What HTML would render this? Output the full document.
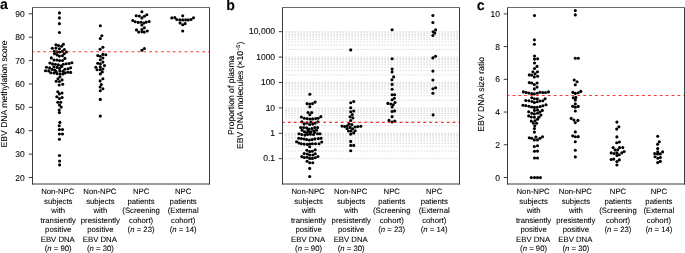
<!DOCTYPE html>
<html><head><meta charset="utf-8"><style>
html,body{margin:0;padding:0;background:#fff;}
svg{display:block;will-change:transform;}
text{font-family:"Liberation Sans", sans-serif;fill:#000;stroke:#000;stroke-width:0.08px;text-rendering:geometricPrecision;}
circle{fill:#000;}
</style></head><body>
<svg width="685" height="253" viewBox="0 0 685 253">
<line x1="285.45" x2="459" y1="158.70" y2="158.70" stroke="#dadada" stroke-width="1" stroke-dasharray="1.5 1.5"/>
<line x1="285.45" x2="459" y1="151.05" y2="151.05" stroke="#dadada" stroke-width="1" stroke-dasharray="1.5 1.5"/>
<line x1="285.45" x2="459" y1="146.58" y2="146.58" stroke="#dadada" stroke-width="1" stroke-dasharray="1.5 1.5"/>
<line x1="285.45" x2="459" y1="143.41" y2="143.41" stroke="#dadada" stroke-width="1" stroke-dasharray="1.5 1.5"/>
<line x1="285.45" x2="459" y1="140.95" y2="140.95" stroke="#dadada" stroke-width="1" stroke-dasharray="1.5 1.5"/>
<line x1="285.45" x2="459" y1="138.93" y2="138.93" stroke="#dadada" stroke-width="1" stroke-dasharray="1.5 1.5"/>
<line x1="285.45" x2="459" y1="137.23" y2="137.23" stroke="#dadada" stroke-width="1" stroke-dasharray="1.5 1.5"/>
<line x1="285.45" x2="459" y1="135.76" y2="135.76" stroke="#dadada" stroke-width="1" stroke-dasharray="1.5 1.5"/>
<line x1="285.45" x2="459" y1="134.46" y2="134.46" stroke="#dadada" stroke-width="1" stroke-dasharray="1.5 1.5"/>
<line x1="285.45" x2="459" y1="133.30" y2="133.30" stroke="#dadada" stroke-width="1" stroke-dasharray="1.5 1.5"/>
<line x1="285.45" x2="459" y1="125.65" y2="125.65" stroke="#dadada" stroke-width="1" stroke-dasharray="1.5 1.5"/>
<line x1="285.45" x2="459" y1="121.18" y2="121.18" stroke="#dadada" stroke-width="1" stroke-dasharray="1.5 1.5"/>
<line x1="285.45" x2="459" y1="118.01" y2="118.01" stroke="#dadada" stroke-width="1" stroke-dasharray="1.5 1.5"/>
<line x1="285.45" x2="459" y1="115.55" y2="115.55" stroke="#dadada" stroke-width="1" stroke-dasharray="1.5 1.5"/>
<line x1="285.45" x2="459" y1="113.53" y2="113.53" stroke="#dadada" stroke-width="1" stroke-dasharray="1.5 1.5"/>
<line x1="285.45" x2="459" y1="111.83" y2="111.83" stroke="#dadada" stroke-width="1" stroke-dasharray="1.5 1.5"/>
<line x1="285.45" x2="459" y1="110.36" y2="110.36" stroke="#dadada" stroke-width="1" stroke-dasharray="1.5 1.5"/>
<line x1="285.45" x2="459" y1="109.06" y2="109.06" stroke="#dadada" stroke-width="1" stroke-dasharray="1.5 1.5"/>
<line x1="285.45" x2="459" y1="107.90" y2="107.90" stroke="#dadada" stroke-width="1" stroke-dasharray="1.5 1.5"/>
<line x1="285.45" x2="459" y1="100.25" y2="100.25" stroke="#dadada" stroke-width="1" stroke-dasharray="1.5 1.5"/>
<line x1="285.45" x2="459" y1="95.78" y2="95.78" stroke="#dadada" stroke-width="1" stroke-dasharray="1.5 1.5"/>
<line x1="285.45" x2="459" y1="92.61" y2="92.61" stroke="#dadada" stroke-width="1" stroke-dasharray="1.5 1.5"/>
<line x1="285.45" x2="459" y1="90.15" y2="90.15" stroke="#dadada" stroke-width="1" stroke-dasharray="1.5 1.5"/>
<line x1="285.45" x2="459" y1="88.13" y2="88.13" stroke="#dadada" stroke-width="1" stroke-dasharray="1.5 1.5"/>
<line x1="285.45" x2="459" y1="86.43" y2="86.43" stroke="#dadada" stroke-width="1" stroke-dasharray="1.5 1.5"/>
<line x1="285.45" x2="459" y1="84.96" y2="84.96" stroke="#dadada" stroke-width="1" stroke-dasharray="1.5 1.5"/>
<line x1="285.45" x2="459" y1="83.66" y2="83.66" stroke="#dadada" stroke-width="1" stroke-dasharray="1.5 1.5"/>
<line x1="285.45" x2="459" y1="82.50" y2="82.50" stroke="#dadada" stroke-width="1" stroke-dasharray="1.5 1.5"/>
<line x1="285.45" x2="459" y1="74.85" y2="74.85" stroke="#dadada" stroke-width="1" stroke-dasharray="1.5 1.5"/>
<line x1="285.45" x2="459" y1="70.38" y2="70.38" stroke="#dadada" stroke-width="1" stroke-dasharray="1.5 1.5"/>
<line x1="285.45" x2="459" y1="67.21" y2="67.21" stroke="#dadada" stroke-width="1" stroke-dasharray="1.5 1.5"/>
<line x1="285.45" x2="459" y1="64.75" y2="64.75" stroke="#dadada" stroke-width="1" stroke-dasharray="1.5 1.5"/>
<line x1="285.45" x2="459" y1="62.73" y2="62.73" stroke="#dadada" stroke-width="1" stroke-dasharray="1.5 1.5"/>
<line x1="285.45" x2="459" y1="61.03" y2="61.03" stroke="#dadada" stroke-width="1" stroke-dasharray="1.5 1.5"/>
<line x1="285.45" x2="459" y1="59.56" y2="59.56" stroke="#dadada" stroke-width="1" stroke-dasharray="1.5 1.5"/>
<line x1="285.45" x2="459" y1="58.26" y2="58.26" stroke="#dadada" stroke-width="1" stroke-dasharray="1.5 1.5"/>
<line x1="285.45" x2="459" y1="57.10" y2="57.10" stroke="#dadada" stroke-width="1" stroke-dasharray="1.5 1.5"/>
<line x1="285.45" x2="459" y1="49.45" y2="49.45" stroke="#dadada" stroke-width="1" stroke-dasharray="1.5 1.5"/>
<line x1="285.45" x2="459" y1="44.98" y2="44.98" stroke="#dadada" stroke-width="1" stroke-dasharray="1.5 1.5"/>
<line x1="285.45" x2="459" y1="41.81" y2="41.81" stroke="#dadada" stroke-width="1" stroke-dasharray="1.5 1.5"/>
<line x1="285.45" x2="459" y1="39.35" y2="39.35" stroke="#dadada" stroke-width="1" stroke-dasharray="1.5 1.5"/>
<line x1="285.45" x2="459" y1="37.33" y2="37.33" stroke="#dadada" stroke-width="1" stroke-dasharray="1.5 1.5"/>
<line x1="285.45" x2="459" y1="35.63" y2="35.63" stroke="#dadada" stroke-width="1" stroke-dasharray="1.5 1.5"/>
<line x1="285.45" x2="459" y1="34.16" y2="34.16" stroke="#dadada" stroke-width="1" stroke-dasharray="1.5 1.5"/>
<line x1="285.45" x2="459" y1="32.86" y2="32.86" stroke="#dadada" stroke-width="1" stroke-dasharray="1.5 1.5"/>
<line x1="285.45" x2="459" y1="31.70" y2="31.70" stroke="#dadada" stroke-width="1" stroke-dasharray="1.5 1.5"/>
<path d="M32.5 7.0 V184.5 M209.5 7.0 V184.5" fill="none" stroke="#3a3a3a" stroke-width="1"/>
<path d="M32.0 7.5 H210.0" fill="none" stroke="#6a6a6a" stroke-width="1"/>
<path d="M32.0 184.0 H210.0" fill="none" stroke="#3a3a3a" stroke-width="1"/>
<path d="M282.5 7.0 V184.5 M459.5 7.0 V184.5" fill="none" stroke="#3a3a3a" stroke-width="1"/>
<path d="M282.0 7.5 H460.0" fill="none" stroke="#6a6a6a" stroke-width="1"/>
<path d="M282.0 184.0 H460.0" fill="none" stroke="#3a3a3a" stroke-width="1"/>
<path d="M507.5 7.0 V184.5 M684.5 7.0 V184.5" fill="none" stroke="#3a3a3a" stroke-width="1"/>
<path d="M507.0 7.5 H685.0" fill="none" stroke="#6a6a6a" stroke-width="1"/>
<path d="M507.0 184.0 H685.0" fill="none" stroke="#3a3a3a" stroke-width="1"/>
<line x1="28.75" x2="32.5" y1="177.50" y2="177.50" stroke="#3a3a3a" stroke-width="1"/>
<text x="24.8" y="180.50" text-anchor="end" font-size="8.5">20</text>
<line x1="28.75" x2="32.5" y1="154.11" y2="154.11" stroke="#3a3a3a" stroke-width="1"/>
<text x="24.8" y="157.11" text-anchor="end" font-size="8.5">30</text>
<line x1="28.75" x2="32.5" y1="130.73" y2="130.73" stroke="#3a3a3a" stroke-width="1"/>
<text x="24.8" y="133.73" text-anchor="end" font-size="8.5">40</text>
<line x1="28.75" x2="32.5" y1="107.34" y2="107.34" stroke="#3a3a3a" stroke-width="1"/>
<text x="24.8" y="110.34" text-anchor="end" font-size="8.5">50</text>
<line x1="28.75" x2="32.5" y1="83.96" y2="83.96" stroke="#3a3a3a" stroke-width="1"/>
<text x="24.8" y="86.96" text-anchor="end" font-size="8.5">60</text>
<line x1="28.75" x2="32.5" y1="60.57" y2="60.57" stroke="#3a3a3a" stroke-width="1"/>
<text x="24.8" y="63.57" text-anchor="end" font-size="8.5">70</text>
<line x1="28.75" x2="32.5" y1="37.19" y2="37.19" stroke="#3a3a3a" stroke-width="1"/>
<text x="24.8" y="40.19" text-anchor="end" font-size="8.5">80</text>
<line x1="28.75" x2="32.5" y1="13.80" y2="13.80" stroke="#3a3a3a" stroke-width="1"/>
<text x="24.8" y="16.80" text-anchor="end" font-size="8.5">90</text>
<line x1="278.75" x2="282.5" y1="158.70" y2="158.70" stroke="#3a3a3a" stroke-width="1"/>
<text x="275.1" y="161.30" text-anchor="end" font-size="8.5">0.1</text>
<line x1="278.75" x2="282.5" y1="133.30" y2="133.30" stroke="#3a3a3a" stroke-width="1"/>
<text x="275.1" y="135.90" text-anchor="end" font-size="8.5">1</text>
<line x1="278.75" x2="282.5" y1="107.90" y2="107.90" stroke="#3a3a3a" stroke-width="1"/>
<text x="275.1" y="110.50" text-anchor="end" font-size="8.5">10</text>
<line x1="278.75" x2="282.5" y1="82.50" y2="82.50" stroke="#3a3a3a" stroke-width="1"/>
<text x="275.1" y="85.10" text-anchor="end" font-size="8.5">100</text>
<line x1="278.75" x2="282.5" y1="57.10" y2="57.10" stroke="#3a3a3a" stroke-width="1"/>
<text x="275.1" y="59.70" text-anchor="end" font-size="8.5">1000</text>
<line x1="278.75" x2="282.5" y1="31.70" y2="31.70" stroke="#3a3a3a" stroke-width="1"/>
<text x="275.1" y="34.30" text-anchor="end" font-size="8.5">10,000</text>
<line x1="503.75" x2="507.5" y1="177.50" y2="177.50" stroke="#3a3a3a" stroke-width="1"/>
<text x="499.9" y="180.50" text-anchor="end" font-size="8.5">0</text>
<line x1="503.75" x2="507.5" y1="144.78" y2="144.78" stroke="#3a3a3a" stroke-width="1"/>
<text x="499.9" y="147.78" text-anchor="end" font-size="8.5">2</text>
<line x1="503.75" x2="507.5" y1="112.06" y2="112.06" stroke="#3a3a3a" stroke-width="1"/>
<text x="499.9" y="115.06" text-anchor="end" font-size="8.5">4</text>
<line x1="503.75" x2="507.5" y1="79.34" y2="79.34" stroke="#3a3a3a" stroke-width="1"/>
<text x="499.9" y="82.34" text-anchor="end" font-size="8.5">6</text>
<line x1="503.75" x2="507.5" y1="46.62" y2="46.62" stroke="#3a3a3a" stroke-width="1"/>
<text x="499.9" y="49.62" text-anchor="end" font-size="8.5">8</text>
<line x1="503.75" x2="507.5" y1="13.90" y2="13.90" stroke="#3a3a3a" stroke-width="1"/>
<text x="499.9" y="16.90" text-anchor="end" font-size="8.5">10</text>
<text x="0.1" y="8.6" font-size="14.2" font-weight="bold">a</text>
<text x="226.2" y="10.4" font-size="14.2" font-weight="bold">b</text>
<text x="476.8" y="10.4" font-size="14.2" font-weight="bold">c</text>
<text transform="translate(6.5 93.95) rotate(-90)" text-anchor="middle" font-size="8.6">EBV DNA methylation score</text>
<text transform="translate(233.6 95.3) rotate(-90)" text-anchor="middle" font-size="8.6">Proportion of plasma</text>
<text transform="translate(243.2 95.35) rotate(-90)" text-anchor="middle" font-size="8.6">EBV DNA molecules (×10<tspan dy="-3" font-size="5.5">−5</tspan><tspan dy="3">)</tspan></text>
<text transform="translate(483.7 94.35) rotate(-90)" text-anchor="middle" font-size="8.7">EBV DNA size ratio</text>
<text x="57.74" y="194.30" text-anchor="middle" font-size="7.75">Non-NPC</text>
<text x="58.24" y="203.77" text-anchor="middle" font-size="7.75">subjects</text>
<text x="58.24" y="213.24" text-anchor="middle" font-size="7.75">with</text>
<text x="58.24" y="222.71" text-anchor="middle" font-size="7.75">transiently</text>
<text x="58.24" y="232.18" text-anchor="middle" font-size="7.75">positive</text>
<text x="57.74" y="241.65" text-anchor="middle" font-size="7.75">EBV DNA</text>
<text x="58.24" y="251.12" text-anchor="middle" font-size="7.75">(<tspan font-style="italic">n</tspan> = 90)</text>
<text x="99.88" y="194.30" text-anchor="middle" font-size="7.75">Non-NPC</text>
<text x="100.38" y="203.77" text-anchor="middle" font-size="7.75">subjects</text>
<text x="100.38" y="213.24" text-anchor="middle" font-size="7.75">with</text>
<text x="100.38" y="222.71" text-anchor="middle" font-size="7.75">presistently</text>
<text x="100.38" y="232.18" text-anchor="middle" font-size="7.75">positive</text>
<text x="99.88" y="241.65" text-anchor="middle" font-size="7.75">EBV DNA</text>
<text x="100.38" y="251.12" text-anchor="middle" font-size="7.75">(<tspan font-style="italic">n</tspan> = 30)</text>
<text x="141.07" y="194.30" text-anchor="middle" font-size="7.75">NPC</text>
<text x="141.07" y="203.77" text-anchor="middle" font-size="7.75">patients</text>
<text x="141.07" y="213.24" text-anchor="middle" font-size="7.75">(Screening</text>
<text x="141.07" y="222.71" text-anchor="middle" font-size="7.75">cohort)</text>
<text x="141.07" y="232.18" text-anchor="middle" font-size="7.75">(<tspan font-style="italic">n</tspan> = 23)</text>
<text x="183.16" y="194.30" text-anchor="middle" font-size="7.75">NPC</text>
<text x="183.16" y="203.77" text-anchor="middle" font-size="7.75">patients</text>
<text x="183.16" y="213.24" text-anchor="middle" font-size="7.75">(External</text>
<text x="183.16" y="222.71" text-anchor="middle" font-size="7.75">cohort)</text>
<text x="183.16" y="232.18" text-anchor="middle" font-size="7.75">(<tspan font-style="italic">n</tspan> = 14)</text>
<text x="308.09" y="194.30" text-anchor="middle" font-size="7.75">Non-NPC</text>
<text x="308.59" y="203.77" text-anchor="middle" font-size="7.75">subjects</text>
<text x="308.59" y="213.24" text-anchor="middle" font-size="7.75">with</text>
<text x="308.59" y="222.71" text-anchor="middle" font-size="7.75">transiently</text>
<text x="308.59" y="232.18" text-anchor="middle" font-size="7.75">positive</text>
<text x="308.09" y="241.65" text-anchor="middle" font-size="7.75">EBV DNA</text>
<text x="308.59" y="251.12" text-anchor="middle" font-size="7.75">(<tspan font-style="italic">n</tspan> = 90)</text>
<text x="350.68" y="194.30" text-anchor="middle" font-size="7.75">Non-NPC</text>
<text x="351.18" y="203.77" text-anchor="middle" font-size="7.75">subjects</text>
<text x="351.18" y="213.24" text-anchor="middle" font-size="7.75">with</text>
<text x="351.18" y="222.71" text-anchor="middle" font-size="7.75">presistently</text>
<text x="351.18" y="232.18" text-anchor="middle" font-size="7.75">positive</text>
<text x="350.68" y="241.65" text-anchor="middle" font-size="7.75">EBV DNA</text>
<text x="351.18" y="251.12" text-anchor="middle" font-size="7.75">(<tspan font-style="italic">n</tspan> = 30)</text>
<text x="391.72" y="194.30" text-anchor="middle" font-size="7.75">NPC</text>
<text x="391.72" y="203.77" text-anchor="middle" font-size="7.75">patients</text>
<text x="391.72" y="213.24" text-anchor="middle" font-size="7.75">(Screening</text>
<text x="391.72" y="222.71" text-anchor="middle" font-size="7.75">cohort)</text>
<text x="391.72" y="232.18" text-anchor="middle" font-size="7.75">(<tspan font-style="italic">n</tspan> = 23)</text>
<text x="434.21" y="194.30" text-anchor="middle" font-size="7.75">NPC</text>
<text x="434.21" y="203.77" text-anchor="middle" font-size="7.75">patients</text>
<text x="434.21" y="213.24" text-anchor="middle" font-size="7.75">(External</text>
<text x="434.21" y="222.71" text-anchor="middle" font-size="7.75">cohort)</text>
<text x="434.21" y="232.18" text-anchor="middle" font-size="7.75">(<tspan font-style="italic">n</tspan> = 14)</text>
<text x="533.09" y="194.30" text-anchor="middle" font-size="7.75">Non-NPC</text>
<text x="533.59" y="203.77" text-anchor="middle" font-size="7.75">subjects</text>
<text x="533.59" y="213.24" text-anchor="middle" font-size="7.75">with</text>
<text x="533.59" y="222.71" text-anchor="middle" font-size="7.75">transiently</text>
<text x="533.59" y="232.18" text-anchor="middle" font-size="7.75">positive</text>
<text x="533.09" y="241.65" text-anchor="middle" font-size="7.75">EBV DNA</text>
<text x="533.59" y="251.12" text-anchor="middle" font-size="7.75">(<tspan font-style="italic">n</tspan> = 90)</text>
<text x="575.38" y="194.30" text-anchor="middle" font-size="7.75">Non-NPC</text>
<text x="575.88" y="203.77" text-anchor="middle" font-size="7.75">subjects</text>
<text x="575.88" y="213.24" text-anchor="middle" font-size="7.75">with</text>
<text x="575.88" y="222.71" text-anchor="middle" font-size="7.75">presistently</text>
<text x="575.88" y="232.18" text-anchor="middle" font-size="7.75">positive</text>
<text x="575.38" y="241.65" text-anchor="middle" font-size="7.75">EBV DNA</text>
<text x="575.88" y="251.12" text-anchor="middle" font-size="7.75">(<tspan font-style="italic">n</tspan> = 30)</text>
<text x="617.97" y="194.30" text-anchor="middle" font-size="7.75">NPC</text>
<text x="617.97" y="203.77" text-anchor="middle" font-size="7.75">patients</text>
<text x="617.97" y="213.24" text-anchor="middle" font-size="7.75">(Screening</text>
<text x="617.97" y="222.71" text-anchor="middle" font-size="7.75">cohort)</text>
<text x="617.97" y="232.18" text-anchor="middle" font-size="7.75">(<tspan font-style="italic">n</tspan> = 23)</text>
<text x="658.91" y="194.30" text-anchor="middle" font-size="7.75">NPC</text>
<text x="658.91" y="203.77" text-anchor="middle" font-size="7.75">patients</text>
<text x="658.91" y="213.24" text-anchor="middle" font-size="7.75">(External</text>
<text x="658.91" y="222.71" text-anchor="middle" font-size="7.75">cohort)</text>
<text x="658.91" y="232.18" text-anchor="middle" font-size="7.75">(<tspan font-style="italic">n</tspan> = 14)</text>
<circle cx="59.4" cy="12.9" r="1.55"/>
<circle cx="59.4" cy="17.9" r="1.55"/>
<circle cx="59.4" cy="23.65" r="1.55"/>
<circle cx="59.4" cy="32.56" r="1.55"/>
<circle cx="55.9" cy="44.7" r="1.55"/>
<circle cx="58.5" cy="45.6" r="1.55"/>
<circle cx="61.6" cy="46.2" r="1.55"/>
<circle cx="63.4" cy="44.2" r="1.55"/>
<circle cx="52.3" cy="48.3" r="1.55"/>
<circle cx="55.9" cy="48.1" r="1.55"/>
<circle cx="59.4" cy="48.8" r="1.55"/>
<circle cx="64.4" cy="49.5" r="1.55"/>
<circle cx="54.3" cy="51.2" r="1.55"/>
<circle cx="57.0" cy="51.9" r="1.55"/>
<circle cx="59.6" cy="52.0" r="1.55"/>
<circle cx="62.3" cy="51.4" r="1.55"/>
<circle cx="66.4" cy="52.0" r="1.55"/>
<circle cx="54.5" cy="53.7" r="1.55"/>
<circle cx="57.1" cy="54.9" r="1.55"/>
<circle cx="59.4" cy="56.1" r="1.55"/>
<circle cx="62.4" cy="55.7" r="1.55"/>
<circle cx="64.2" cy="53.7" r="1.55"/>
<circle cx="51.3" cy="57.9" r="1.55"/>
<circle cx="54.0" cy="60.0" r="1.55"/>
<circle cx="56.9" cy="60.0" r="1.55"/>
<circle cx="59.5" cy="60.6" r="1.55"/>
<circle cx="62.5" cy="60.5" r="1.55"/>
<circle cx="64.9" cy="58.4" r="1.55"/>
<circle cx="49.9" cy="63.0" r="1.55"/>
<circle cx="52.5" cy="63.9" r="1.55"/>
<circle cx="55.4" cy="64.2" r="1.55"/>
<circle cx="58.4" cy="64.9" r="1.55"/>
<circle cx="61.3" cy="65.8" r="1.55"/>
<circle cx="63.3" cy="64.2" r="1.55"/>
<circle cx="66.2" cy="63.8" r="1.55"/>
<circle cx="69.1" cy="63.5" r="1.55"/>
<circle cx="71.9" cy="62.8" r="1.55"/>
<circle cx="46.5" cy="67.2" r="1.55"/>
<circle cx="49.6" cy="67.9" r="1.55"/>
<circle cx="53.9" cy="66.8" r="1.55"/>
<circle cx="57.0" cy="67.4" r="1.55"/>
<circle cx="59.6" cy="68.4" r="1.55"/>
<circle cx="61.8" cy="66.5" r="1.55"/>
<circle cx="64.9" cy="69.2" r="1.55"/>
<circle cx="68.0" cy="68.7" r="1.55"/>
<circle cx="70.6" cy="67.8" r="1.55"/>
<circle cx="52.1" cy="69.4" r="1.55"/>
<circle cx="54.6" cy="70.0" r="1.55"/>
<circle cx="45.5" cy="70.8" r="1.55"/>
<circle cx="48.7" cy="70.9" r="1.55"/>
<circle cx="50.8" cy="72.7" r="1.55"/>
<circle cx="53.9" cy="73.0" r="1.55"/>
<circle cx="57.0" cy="73.6" r="1.55"/>
<circle cx="59.8" cy="71.0" r="1.55"/>
<circle cx="60.0" cy="74.0" r="1.55"/>
<circle cx="62.9" cy="71.2" r="1.55"/>
<circle cx="62.9" cy="73.9" r="1.55"/>
<circle cx="65.0" cy="72.9" r="1.55"/>
<circle cx="67.8" cy="72.2" r="1.55"/>
<circle cx="70.6" cy="72.4" r="1.55"/>
<circle cx="56.0" cy="71.4" r="1.55"/>
<circle cx="59.9" cy="76.7" r="1.55"/>
<circle cx="58.0" cy="78.7" r="1.55"/>
<circle cx="62.0" cy="79.9" r="1.55"/>
<circle cx="56.2" cy="81.3" r="1.55"/>
<circle cx="59.4" cy="81.5" r="1.55"/>
<circle cx="59.2" cy="85.0" r="1.55"/>
<circle cx="62.7" cy="84.2" r="1.55"/>
<circle cx="57.8" cy="91.7" r="1.55"/>
<circle cx="59.4" cy="93.9" r="1.55"/>
<circle cx="62.0" cy="93.0" r="1.55"/>
<circle cx="56.8" cy="96.8" r="1.55"/>
<circle cx="59.4" cy="98.5" r="1.55"/>
<circle cx="62.1" cy="97.5" r="1.55"/>
<circle cx="57.8" cy="102.2" r="1.55"/>
<circle cx="60.7" cy="102.2" r="1.55"/>
<circle cx="59.4" cy="105.0" r="1.55"/>
<circle cx="61.2" cy="107.1" r="1.55"/>
<circle cx="59.2" cy="110.0" r="1.55"/>
<circle cx="59.4" cy="112.6" r="1.55"/>
<circle cx="59.9" cy="122.4" r="1.55"/>
<circle cx="59.2" cy="125.7" r="1.55"/>
<circle cx="59.4" cy="129.5" r="1.55"/>
<circle cx="62.5" cy="129.5" r="1.55"/>
<circle cx="59.4" cy="134.0" r="1.55"/>
<circle cx="62.5" cy="134.0" r="1.55"/>
<circle cx="59.4" cy="139.3" r="1.55"/>
<circle cx="59.5" cy="155.5" r="1.55"/>
<circle cx="59.6" cy="161.0" r="1.55"/>
<circle cx="59.6" cy="164.9" r="1.55"/>
<circle cx="100.3" cy="25.7" r="1.55"/>
<circle cx="101.85" cy="35.8" r="1.55"/>
<circle cx="100.3" cy="38.5" r="1.55"/>
<circle cx="102.9" cy="47.25" r="1.55"/>
<circle cx="100.1" cy="49.3" r="1.55"/>
<circle cx="97.8" cy="55.5" r="1.55"/>
<circle cx="100.3" cy="56.2" r="1.55"/>
<circle cx="102.9" cy="54.4" r="1.55"/>
<circle cx="105.8" cy="54.7" r="1.55"/>
<circle cx="102.9" cy="58.0" r="1.55"/>
<circle cx="100.3" cy="59.7" r="1.55"/>
<circle cx="102.9" cy="62.1" r="1.55"/>
<circle cx="97.7" cy="63.3" r="1.55"/>
<circle cx="100.3" cy="63.9" r="1.55"/>
<circle cx="104.5" cy="65.6" r="1.55"/>
<circle cx="95.8" cy="67.2" r="1.55"/>
<circle cx="100.3" cy="67.1" r="1.55"/>
<circle cx="97.1" cy="69.8" r="1.55"/>
<circle cx="100.3" cy="69.8" r="1.55"/>
<circle cx="102.9" cy="69.0" r="1.55"/>
<circle cx="102.3" cy="72.0" r="1.55"/>
<circle cx="100.3" cy="73.9" r="1.55"/>
<circle cx="102.9" cy="78.7" r="1.55"/>
<circle cx="100.1" cy="80.9" r="1.55"/>
<circle cx="101.3" cy="84.6" r="1.55"/>
<circle cx="100.1" cy="87.0" r="1.55"/>
<circle cx="102.9" cy="88.8" r="1.55"/>
<circle cx="100.3" cy="90.7" r="1.55"/>
<circle cx="100.3" cy="99.4" r="1.55"/>
<circle cx="100.3" cy="116.1" r="1.55"/>
<circle cx="141.9" cy="11.8" r="1.55"/>
<circle cx="136.2" cy="15.75" r="1.55"/>
<circle cx="139.3" cy="16.1" r="1.55"/>
<circle cx="141.9" cy="17.9" r="1.55"/>
<circle cx="144.4" cy="16.3" r="1.55"/>
<circle cx="146.8" cy="14.7" r="1.55"/>
<circle cx="132.8" cy="20.5" r="1.55"/>
<circle cx="135.2" cy="21.8" r="1.55"/>
<circle cx="138.2" cy="22.4" r="1.55"/>
<circle cx="141.1" cy="22.2" r="1.55"/>
<circle cx="143.9" cy="23.0" r="1.55"/>
<circle cx="146.2" cy="22.1" r="1.55"/>
<circle cx="149.1" cy="21.6" r="1.55"/>
<circle cx="141.9" cy="25.0" r="1.55"/>
<circle cx="144.4" cy="27.8" r="1.55"/>
<circle cx="141.9" cy="29.5" r="1.55"/>
<circle cx="136.5" cy="29.9" r="1.55"/>
<circle cx="138.7" cy="32.1" r="1.55"/>
<circle cx="141.9" cy="31.75" r="1.55"/>
<circle cx="144.25" cy="32.1" r="1.55"/>
<circle cx="147.25" cy="31.0" r="1.55"/>
<circle cx="144.4" cy="48.5" r="1.55"/>
<circle cx="141.9" cy="50.3" r="1.55"/>
<circle cx="182.7" cy="15.7" r="1.55"/>
<circle cx="171.8" cy="17.9" r="1.55"/>
<circle cx="174.8" cy="17.6" r="1.55"/>
<circle cx="176.8" cy="19.5" r="1.55"/>
<circle cx="179.8" cy="19.9" r="1.55"/>
<circle cx="182.7" cy="19.9" r="1.55"/>
<circle cx="185.6" cy="19.9" r="1.55"/>
<circle cx="188.2" cy="19.9" r="1.55"/>
<circle cx="191.0" cy="19.5" r="1.55"/>
<circle cx="193.5" cy="17.7" r="1.55"/>
<circle cx="180.1" cy="23.0" r="1.55"/>
<circle cx="182.7" cy="24.8" r="1.55"/>
<circle cx="185.1" cy="23.65" r="1.55"/>
<circle cx="182.7" cy="31.07" r="1.55"/>
<circle cx="309.85" cy="94.2" r="1.55"/>
<circle cx="307.1" cy="103.65" r="1.55"/>
<circle cx="309.85" cy="104.0" r="1.55"/>
<circle cx="312.6" cy="103.6" r="1.55"/>
<circle cx="315.15" cy="102.1" r="1.55"/>
<circle cx="309.85" cy="106.8" r="1.55"/>
<circle cx="308.0" cy="112.5" r="1.55"/>
<circle cx="311.7" cy="112.5" r="1.55"/>
<circle cx="309.85" cy="114.7" r="1.55"/>
<circle cx="301.4" cy="117.0" r="1.55"/>
<circle cx="304.3" cy="118.2" r="1.55"/>
<circle cx="307.1" cy="118.6" r="1.55"/>
<circle cx="309.85" cy="119.0" r="1.55"/>
<circle cx="312.6" cy="118.9" r="1.55"/>
<circle cx="315.6" cy="118.6" r="1.55"/>
<circle cx="318.15" cy="118.2" r="1.55"/>
<circle cx="320.8" cy="116.65" r="1.55"/>
<circle cx="301.9" cy="121.85" r="1.55"/>
<circle cx="304.2" cy="123.9" r="1.55"/>
<circle cx="307.0" cy="122.9" r="1.55"/>
<circle cx="309.7" cy="124.5" r="1.55"/>
<circle cx="310.9" cy="122.0" r="1.55"/>
<circle cx="312.8" cy="124.1" r="1.55"/>
<circle cx="315.2" cy="123.1" r="1.55"/>
<circle cx="317.9" cy="121.85" r="1.55"/>
<circle cx="300.75" cy="127.6" r="1.55"/>
<circle cx="303.7" cy="127.6" r="1.55"/>
<circle cx="306.6" cy="127.9" r="1.55"/>
<circle cx="309.0" cy="128.95" r="1.55"/>
<circle cx="311.9" cy="128.6" r="1.55"/>
<circle cx="314.8" cy="127.6" r="1.55"/>
<circle cx="317.6" cy="127.6" r="1.55"/>
<circle cx="302.1" cy="130.2" r="1.55"/>
<circle cx="304.5" cy="131.7" r="1.55"/>
<circle cx="308.0" cy="130.4" r="1.55"/>
<circle cx="311.0" cy="131.7" r="1.55"/>
<circle cx="313.8" cy="130.7" r="1.55"/>
<circle cx="316.5" cy="130.2" r="1.55"/>
<circle cx="299.0" cy="133.8" r="1.55"/>
<circle cx="301.8" cy="134.5" r="1.55"/>
<circle cx="304.9" cy="135.1" r="1.55"/>
<circle cx="307.6" cy="134.5" r="1.55"/>
<circle cx="310.5" cy="134.2" r="1.55"/>
<circle cx="313.5" cy="134.5" r="1.55"/>
<circle cx="317.6" cy="133.8" r="1.55"/>
<circle cx="320.0" cy="133.8" r="1.55"/>
<circle cx="298.7" cy="138.2" r="1.55"/>
<circle cx="301.4" cy="138.6" r="1.55"/>
<circle cx="304.2" cy="139.0" r="1.55"/>
<circle cx="306.6" cy="139.6" r="1.55"/>
<circle cx="309.3" cy="140.0" r="1.55"/>
<circle cx="312.1" cy="139.6" r="1.55"/>
<circle cx="314.8" cy="138.9" r="1.55"/>
<circle cx="318.3" cy="138.6" r="1.55"/>
<circle cx="321.0" cy="138.2" r="1.55"/>
<circle cx="296.6" cy="141.7" r="1.55"/>
<circle cx="299.0" cy="143.0" r="1.55"/>
<circle cx="301.4" cy="143.7" r="1.55"/>
<circle cx="304.2" cy="144.1" r="1.55"/>
<circle cx="307.3" cy="144.4" r="1.55"/>
<circle cx="309.7" cy="144.1" r="1.55"/>
<circle cx="312.4" cy="143.7" r="1.55"/>
<circle cx="315.5" cy="143.7" r="1.55"/>
<circle cx="319.0" cy="143.7" r="1.55"/>
<circle cx="321.7" cy="142.0" r="1.55"/>
<circle cx="309.7" cy="146.8" r="1.55"/>
<circle cx="306.9" cy="150.2" r="1.55"/>
<circle cx="309.7" cy="151.6" r="1.55"/>
<circle cx="312.4" cy="151.2" r="1.55"/>
<circle cx="315.2" cy="149.7" r="1.55"/>
<circle cx="304.2" cy="153.6" r="1.55"/>
<circle cx="307.3" cy="154.0" r="1.55"/>
<circle cx="309.7" cy="155.0" r="1.55"/>
<circle cx="312.8" cy="155.0" r="1.55"/>
<circle cx="315.2" cy="153.8" r="1.55"/>
<circle cx="301.8" cy="156.6" r="1.55"/>
<circle cx="304.2" cy="157.5" r="1.55"/>
<circle cx="307.0" cy="157.3" r="1.55"/>
<circle cx="309.7" cy="158.4" r="1.55"/>
<circle cx="312.4" cy="158.4" r="1.55"/>
<circle cx="315.2" cy="157.75" r="1.55"/>
<circle cx="317.9" cy="156.5" r="1.55"/>
<circle cx="307.1" cy="161.2" r="1.55"/>
<circle cx="309.7" cy="162.7" r="1.55"/>
<circle cx="312.8" cy="162.7" r="1.55"/>
<circle cx="309.7" cy="168.4" r="1.55"/>
<circle cx="309.7" cy="176.5" r="1.55"/>
<circle cx="306.6" cy="132.7" r="1.55"/>
<circle cx="309.6" cy="132.4" r="1.55"/>
<circle cx="314.6" cy="132.5" r="1.55"/>
<circle cx="350.7" cy="49.9" r="1.55"/>
<circle cx="350.7" cy="102.7" r="1.55"/>
<circle cx="353.7" cy="101.5" r="1.55"/>
<circle cx="350.7" cy="107.8" r="1.55"/>
<circle cx="350.7" cy="111.8" r="1.55"/>
<circle cx="353.7" cy="111.0" r="1.55"/>
<circle cx="352.25" cy="114.6" r="1.55"/>
<circle cx="350.1" cy="116.7" r="1.55"/>
<circle cx="352.8" cy="117.9" r="1.55"/>
<circle cx="350.7" cy="120.5" r="1.55"/>
<circle cx="349.1" cy="123.9" r="1.55"/>
<circle cx="351.85" cy="124.65" r="1.55"/>
<circle cx="342.0" cy="126.1" r="1.55"/>
<circle cx="344.7" cy="126.6" r="1.55"/>
<circle cx="350.1" cy="127.4" r="1.55"/>
<circle cx="355.0" cy="127.0" r="1.55"/>
<circle cx="357.8" cy="126.6" r="1.55"/>
<circle cx="360.8" cy="126.2" r="1.55"/>
<circle cx="347.1" cy="128.6" r="1.55"/>
<circle cx="352.6" cy="128.7" r="1.55"/>
<circle cx="348.5" cy="131.0" r="1.55"/>
<circle cx="351.0" cy="130.9" r="1.55"/>
<circle cx="355.2" cy="130.8" r="1.55"/>
<circle cx="350.7" cy="134.1" r="1.55"/>
<circle cx="353.7" cy="132.9" r="1.55"/>
<circle cx="350.7" cy="141.4" r="1.55"/>
<circle cx="350.7" cy="145.4" r="1.55"/>
<circle cx="353.7" cy="145.4" r="1.55"/>
<circle cx="350.7" cy="150.7" r="1.55"/>
<circle cx="347.3" cy="125.8" r="1.55"/>
<circle cx="392.1" cy="29.75" r="1.55"/>
<circle cx="392.1" cy="58.8" r="1.55"/>
<circle cx="392.1" cy="69.1" r="1.55"/>
<circle cx="392.1" cy="72.0" r="1.55"/>
<circle cx="393.6" cy="76.9" r="1.55"/>
<circle cx="391.9" cy="79.7" r="1.55"/>
<circle cx="392.1" cy="84.4" r="1.55"/>
<circle cx="392.1" cy="89.2" r="1.55"/>
<circle cx="392.1" cy="94.7" r="1.55"/>
<circle cx="394.6" cy="94.7" r="1.55"/>
<circle cx="392.1" cy="99.7" r="1.55"/>
<circle cx="394.4" cy="98.3" r="1.55"/>
<circle cx="387.9" cy="103.4" r="1.55"/>
<circle cx="390.85" cy="104.0" r="1.55"/>
<circle cx="393.3" cy="104.8" r="1.55"/>
<circle cx="395.0" cy="102.5" r="1.55"/>
<circle cx="392.1" cy="107.0" r="1.55"/>
<circle cx="392.1" cy="111.5" r="1.55"/>
<circle cx="394.6" cy="110.9" r="1.55"/>
<circle cx="392.1" cy="116.65" r="1.55"/>
<circle cx="389.0" cy="120.4" r="1.55"/>
<circle cx="392.1" cy="122.0" r="1.55"/>
<circle cx="394.8" cy="121.0" r="1.55"/>
<circle cx="432.9" cy="15.5" r="1.55"/>
<circle cx="432.9" cy="22.5" r="1.55"/>
<circle cx="435.6" cy="29.9" r="1.55"/>
<circle cx="433.1" cy="31.75" r="1.55"/>
<circle cx="434.7" cy="33.1" r="1.55"/>
<circle cx="432.9" cy="35.5" r="1.55"/>
<circle cx="435.5" cy="56.2" r="1.55"/>
<circle cx="432.85" cy="57.9" r="1.55"/>
<circle cx="432.9" cy="71.1" r="1.55"/>
<circle cx="432.9" cy="80.0" r="1.55"/>
<circle cx="435.6" cy="87.75" r="1.55"/>
<circle cx="432.9" cy="88.7" r="1.55"/>
<circle cx="432.9" cy="93.3" r="1.55"/>
<circle cx="433.1" cy="114.9" r="1.55"/>
<circle cx="534.5" cy="15.5" r="1.55"/>
<circle cx="534.4" cy="39.85" r="1.55"/>
<circle cx="534.4" cy="44.3" r="1.55"/>
<circle cx="534.5" cy="56.0" r="1.55"/>
<circle cx="534.5" cy="59.1" r="1.55"/>
<circle cx="537.6" cy="58.7" r="1.55"/>
<circle cx="534.5" cy="63.07" r="1.55"/>
<circle cx="537.0" cy="66.4" r="1.55"/>
<circle cx="534.5" cy="68.5" r="1.55"/>
<circle cx="532.9" cy="71.8" r="1.55"/>
<circle cx="537.5" cy="71.8" r="1.55"/>
<circle cx="535.1" cy="73.7" r="1.55"/>
<circle cx="529.3" cy="74.9" r="1.55"/>
<circle cx="531.7" cy="75.1" r="1.55"/>
<circle cx="534.3" cy="76.9" r="1.55"/>
<circle cx="537.6" cy="76.3" r="1.55"/>
<circle cx="529.3" cy="82.6" r="1.55"/>
<circle cx="531.7" cy="83.0" r="1.55"/>
<circle cx="534.3" cy="84.5" r="1.55"/>
<circle cx="537.1" cy="83.0" r="1.55"/>
<circle cx="537.0" cy="87.1" r="1.55"/>
<circle cx="534.3" cy="88.9" r="1.55"/>
<circle cx="523.4" cy="91.9" r="1.55"/>
<circle cx="526.2" cy="92.5" r="1.55"/>
<circle cx="528.9" cy="93.1" r="1.55"/>
<circle cx="531.7" cy="93.6" r="1.55"/>
<circle cx="534.3" cy="93.9" r="1.55"/>
<circle cx="537.2" cy="93.3" r="1.55"/>
<circle cx="540.0" cy="92.3" r="1.55"/>
<circle cx="542.8" cy="92.5" r="1.55"/>
<circle cx="545.5" cy="92.5" r="1.55"/>
<circle cx="548.5" cy="91.9" r="1.55"/>
<circle cx="531.8" cy="97.75" r="1.55"/>
<circle cx="534.4" cy="98.8" r="1.55"/>
<circle cx="537.3" cy="98.8" r="1.55"/>
<circle cx="545.1" cy="98.8" r="1.55"/>
<circle cx="525.8" cy="100.5" r="1.55"/>
<circle cx="528.9" cy="100.8" r="1.55"/>
<circle cx="532.0" cy="101.5" r="1.55"/>
<circle cx="534.4" cy="102.5" r="1.55"/>
<circle cx="537.2" cy="101.8" r="1.55"/>
<circle cx="539.9" cy="101.0" r="1.55"/>
<circle cx="542.8" cy="100.8" r="1.55"/>
<circle cx="523.0" cy="105.2" r="1.55"/>
<circle cx="525.8" cy="105.6" r="1.55"/>
<circle cx="528.9" cy="106.3" r="1.55"/>
<circle cx="531.6" cy="107.0" r="1.55"/>
<circle cx="534.4" cy="107.4" r="1.55"/>
<circle cx="537.1" cy="107.2" r="1.55"/>
<circle cx="540.2" cy="106.5" r="1.55"/>
<circle cx="542.9" cy="105.8" r="1.55"/>
<circle cx="546.0" cy="104.8" r="1.55"/>
<circle cx="534.4" cy="110.4" r="1.55"/>
<circle cx="537.5" cy="110.1" r="1.55"/>
<circle cx="542.3" cy="110.4" r="1.55"/>
<circle cx="528.7" cy="111.7" r="1.55"/>
<circle cx="531.8" cy="113.3" r="1.55"/>
<circle cx="534.4" cy="113.9" r="1.55"/>
<circle cx="537.5" cy="113.2" r="1.55"/>
<circle cx="539.9" cy="112.1" r="1.55"/>
<circle cx="528.7" cy="115.9" r="1.55"/>
<circle cx="531.3" cy="117.0" r="1.55"/>
<circle cx="534.4" cy="117.2" r="1.55"/>
<circle cx="538.8" cy="117.2" r="1.55"/>
<circle cx="540.9" cy="115.1" r="1.55"/>
<circle cx="537.5" cy="119.2" r="1.55"/>
<circle cx="535.0" cy="120.7" r="1.55"/>
<circle cx="531.3" cy="121.1" r="1.55"/>
<circle cx="533.3" cy="123.1" r="1.55"/>
<circle cx="536.6" cy="123.3" r="1.55"/>
<circle cx="534.8" cy="125.7" r="1.55"/>
<circle cx="534.4" cy="128.6" r="1.55"/>
<circle cx="534.4" cy="132.1" r="1.55"/>
<circle cx="529.3" cy="137.7" r="1.55"/>
<circle cx="531.7" cy="138.3" r="1.55"/>
<circle cx="534.3" cy="139.9" r="1.55"/>
<circle cx="535.9" cy="137.1" r="1.55"/>
<circle cx="537.5" cy="139.9" r="1.55"/>
<circle cx="540.0" cy="138.2" r="1.55"/>
<circle cx="542.5" cy="136.7" r="1.55"/>
<circle cx="534.3" cy="146.5" r="1.55"/>
<circle cx="537.5" cy="145.8" r="1.55"/>
<circle cx="534.5" cy="151.3" r="1.55"/>
<circle cx="537.5" cy="151.1" r="1.55"/>
<circle cx="534.5" cy="158.0" r="1.55"/>
<circle cx="537.5" cy="158.0" r="1.55"/>
<circle cx="531.3" cy="177.6" r="1.55"/>
<circle cx="534.5" cy="177.6" r="1.55"/>
<circle cx="537.5" cy="177.6" r="1.55"/>
<circle cx="540.4" cy="177.6" r="1.55"/>
<circle cx="575.3" cy="10.56" r="1.55"/>
<circle cx="575.3" cy="14.9" r="1.55"/>
<circle cx="575.3" cy="58.2" r="1.55"/>
<circle cx="578.3" cy="58.2" r="1.55"/>
<circle cx="574.2" cy="79.95" r="1.55"/>
<circle cx="577.1" cy="81.7" r="1.55"/>
<circle cx="575.3" cy="84.7" r="1.55"/>
<circle cx="572.9" cy="92.4" r="1.55"/>
<circle cx="575.3" cy="93.4" r="1.55"/>
<circle cx="578.2" cy="92.8" r="1.55"/>
<circle cx="580.8" cy="91.4" r="1.55"/>
<circle cx="573.3" cy="97.7" r="1.55"/>
<circle cx="575.8" cy="97.4" r="1.55"/>
<circle cx="575.3" cy="99.9" r="1.55"/>
<circle cx="575.3" cy="103.9" r="1.55"/>
<circle cx="572.7" cy="106.2" r="1.55"/>
<circle cx="575.3" cy="107.3" r="1.55"/>
<circle cx="578.2" cy="106.4" r="1.55"/>
<circle cx="575.3" cy="111.0" r="1.55"/>
<circle cx="571.2" cy="118.4" r="1.55"/>
<circle cx="573.9" cy="120.0" r="1.55"/>
<circle cx="577.9" cy="120.4" r="1.55"/>
<circle cx="575.3" cy="122.6" r="1.55"/>
<circle cx="575.3" cy="131.9" r="1.55"/>
<circle cx="572.7" cy="135.86" r="1.55"/>
<circle cx="575.3" cy="136.8" r="1.55"/>
<circle cx="578.2" cy="136.65" r="1.55"/>
<circle cx="575.3" cy="141.8" r="1.55"/>
<circle cx="575.3" cy="150.3" r="1.55"/>
<circle cx="575.3" cy="156.9" r="1.55"/>
<circle cx="616.9" cy="122.1" r="1.55"/>
<circle cx="618.85" cy="126.86" r="1.55"/>
<circle cx="616.7" cy="129.1" r="1.55"/>
<circle cx="616.9" cy="136.9" r="1.55"/>
<circle cx="616.7" cy="142.7" r="1.55"/>
<circle cx="619.4" cy="142.07" r="1.55"/>
<circle cx="613.1" cy="147.6" r="1.55"/>
<circle cx="619.6" cy="147.6" r="1.55"/>
<circle cx="622.8" cy="147.6" r="1.55"/>
<circle cx="615.1" cy="149.9" r="1.55"/>
<circle cx="617.8" cy="149.7" r="1.55"/>
<circle cx="611.2" cy="152.9" r="1.55"/>
<circle cx="614.1" cy="153.5" r="1.55"/>
<circle cx="616.9" cy="152.7" r="1.55"/>
<circle cx="616.9" cy="155.5" r="1.55"/>
<circle cx="619.25" cy="154.7" r="1.55"/>
<circle cx="621.8" cy="152.85" r="1.55"/>
<circle cx="624.15" cy="151.5" r="1.55"/>
<circle cx="611.2" cy="159.5" r="1.55"/>
<circle cx="613.7" cy="159.1" r="1.55"/>
<circle cx="616.9" cy="161.6" r="1.55"/>
<circle cx="619.3" cy="159.9" r="1.55"/>
<circle cx="616.9" cy="165.0" r="1.55"/>
<circle cx="657.7" cy="136.3" r="1.55"/>
<circle cx="659.3" cy="141.7" r="1.55"/>
<circle cx="657.6" cy="144.2" r="1.55"/>
<circle cx="657.7" cy="148.6" r="1.55"/>
<circle cx="657.7" cy="151.7" r="1.55"/>
<circle cx="662.6" cy="151.9" r="1.55"/>
<circle cx="654.6" cy="153.5" r="1.55"/>
<circle cx="657.5" cy="153.9" r="1.55"/>
<circle cx="660.25" cy="153.9" r="1.55"/>
<circle cx="655.1" cy="156.8" r="1.55"/>
<circle cx="657.9" cy="158.25" r="1.55"/>
<circle cx="660.4" cy="157.5" r="1.55"/>
<circle cx="657.7" cy="162.6" r="1.55"/>
<circle cx="660.25" cy="161.4" r="1.55"/>
<line x1="32.5" x2="209.5" stroke-dashoffset="1.05" y1="51.8" y2="51.8" stroke="#ff0000" stroke-width="1.1" stroke-dasharray="2.75 3.14" stroke-opacity="0.8"/>
<line x1="282.5" x2="459.5" stroke-dashoffset="0.48" y1="122.4" y2="122.4" stroke="#ff0000" stroke-width="1.1" stroke-dasharray="2.75 3.134" stroke-opacity="0.8"/>
<line x1="507.5" x2="684.5" stroke-dashoffset="0.83" y1="95.5" y2="95.5" stroke="#ff0000" stroke-width="1.1" stroke-dasharray="2.75 3.14" stroke-opacity="0.8"/>
</svg>
</body></html>
